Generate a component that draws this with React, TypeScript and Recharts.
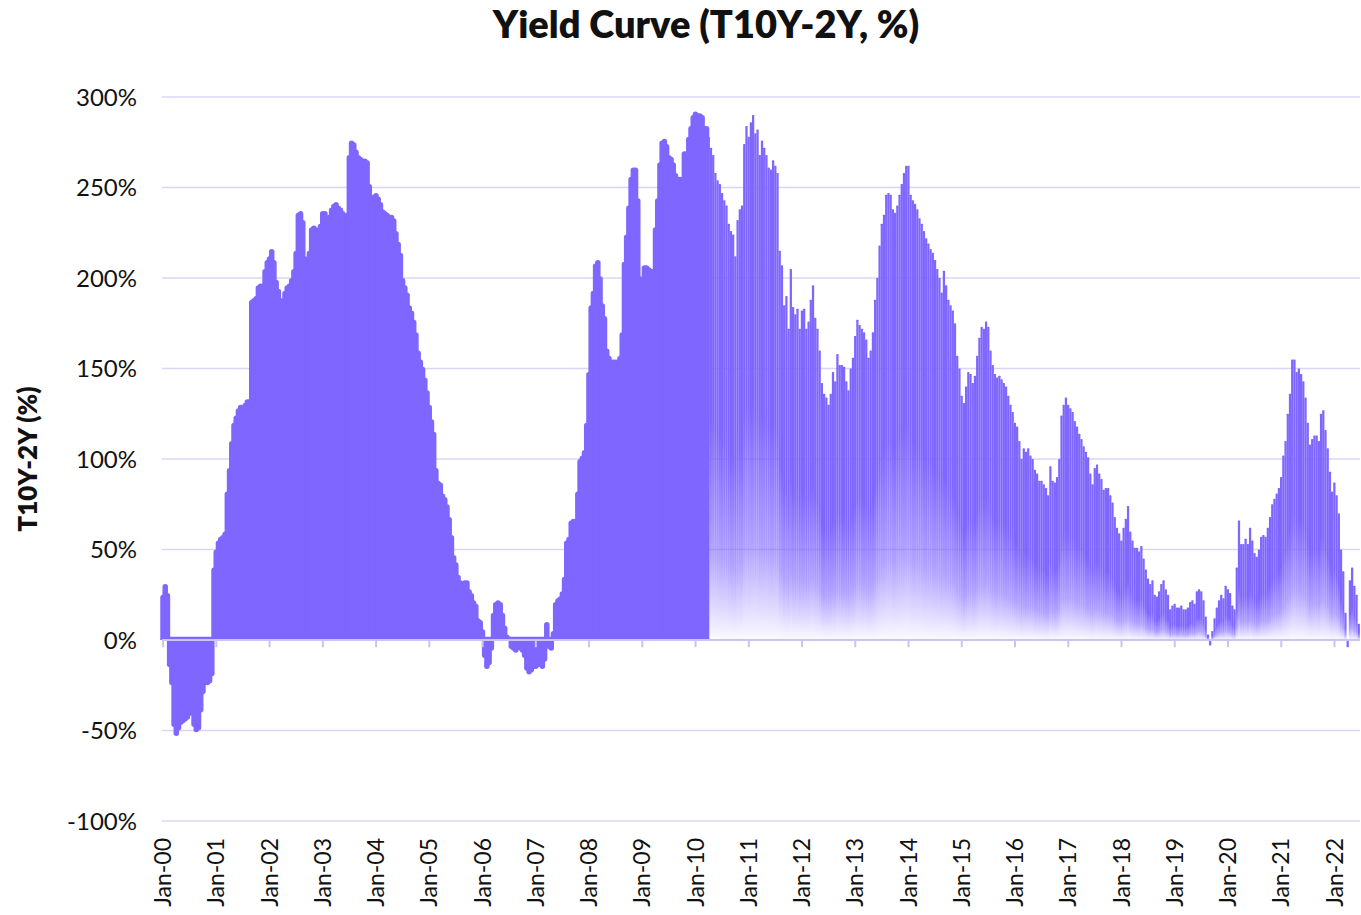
import React from "react";
import {
  Bar,
  BarChart,
  CartesianGrid,
  ReferenceArea,
  ReferenceLine,
  XAxis,
  YAxis,
} from "recharts";

const PURPLE = "#7F66FF";
const GRID = "#d9d7f5";
const AXIS = "#c8c6ee";
const INK = "#111";

// T10Y-2Y spread (%), two readings per month: first half, second half
const Y2000 = [25, 31, 26, -15, -25, -48, -53, -50, -47, -46, -45, -44, -42, -40, -48, -51, -50, -40, -30, -25, -25, -24, -20, 40];
const Y2001 = [50, 55, 57, 58, 60, 82, 95, 110, 120, 124, 128, 130, 129, 131, 133, 133, 188, 189, 190, 196, 197, 197, 205, 210];
const Y2002 = [212, 216, 210, 199, 194, 189, 186, 193, 196, 197, 200, 205, 215, 236, 237, 232, 212, 202, 215, 228, 229, 228, 224, 230];
const Y2003 = [237, 237, 232, 235, 239, 241, 242, 240, 239, 237, 225, 236, 268, 276, 275, 271, 268, 267, 266, 266, 265, 252, 246, 246];
const Y2004 = [247, 245, 242, 238, 237, 236, 235, 235, 233, 226, 220, 214, 200, 196, 192, 185, 182, 177, 170, 160, 155, 151, 145, 138];
const Y2005 = [130, 122, 115, 95, 88, 87, 81, 79, 75, 68, 58, 47, 43, 36, 33, 31, 33, 33, 28, 26, 22, 20, 12, 11];
const Y2006 = [6, -10, -16, -14, -6, 15, 21, 22, 21, 15, 8, 3, 2, -5, -6, -7, -4, -6, -7, -10, -17, -19, -18, -16];
const Y2007 = [-16, -15, -14, -16, -12, 10, -5, -6, 5, 21, 23, 24, 27, 35, 55, 57, 66, 67, 67, 82, 100, 102, 105, 120];
const Y2008 = [148, 185, 193, 208, 210, 201, 186, 179, 161, 157, 155, 155, 155, 155, 157, 170, 209, 224, 240, 256, 261, 261, 244, 201];
const Y2009 = [190, 207, 207, 206, 205, 205, 228, 244, 264, 276, 277, 274, 268, 267, 264, 258, 256, 256, 254, 270, 270, 278, 284, 290];
const Y2010 = [292, 291, 291, 290, 284, 284, 278, 272, 268, 258, 254, 252, 247, 243, 240, 230, 226, 224, 212, 232, 238, 240, 274, 284];
const Y2011 = [278, 286, 290, 280, 282, 268, 276, 272, 268, 261, 260, 265, 262, 258, 215, 207, 185, 190, 172, 205, 184, 180, 183, 172];
const Y2012 = [182, 183, 172, 176, 188, 196, 178, 172, 160, 142, 136, 134, 130, 136, 148, 143, 158, 152, 152, 151, 143, 138, 150, 156];
const Y2013 = [168, 177, 174, 172, 170, 166, 156, 160, 170, 188, 200, 218, 230, 235, 246, 247, 246, 238, 236, 240, 246, 252, 258, 262];
const Y2014 = [262, 246, 243, 241, 238, 233, 230, 226, 222, 219, 216, 214, 210, 205, 200, 192, 204, 196, 188, 185, 182, 175, 157, 150];
const Y2015 = [135, 131, 140, 148, 147, 142, 146, 157, 167, 173, 172, 176, 173, 160, 152, 147, 145, 146, 144, 142, 140, 135, 130, 126];
const Y2016 = [120, 118, 110, 100, 106, 104, 106, 102, 100, 94, 92, 88, 88, 86, 84, 80, 96, 88, 87, 90, 100, 124, 130, 134];
const Y2017 = [130, 128, 126, 121, 118, 114, 111, 107, 104, 101, 92, 86, 95, 97, 92, 89, 83, 84, 84, 80, 76, 68, 62, 59];
const Y2018 = [55, 62, 67, 74, 60, 55, 51, 51, 49, 52, 45, 39, 34, 31, 33, 25, 24, 27, 31, 33, 28, 25, 17, 19];
const Y2019 = [20, 18, 18, 19, 17, 17, 18, 21, 22, 20, 27, 28, 27, 22, 13, 3, -3, 5, 12, 18, 22, 25, 23, 30];
const Y2020 = [28, 26, 19, 17, 40, 66, 53, 53, 56, 53, 62, 55, 48, 46, 50, 57, 58, 57, 62, 68, 75, 78, 81, 84];
const Y2021 = [90, 102, 110, 125, 136, 155, 155, 148, 150, 147, 143, 134, 120, 108, 111, 113, 113, 110, 125, 127, 116, 106, 93, 82];
const Y2022 = [87, 80, 70, 50, 38, 15, -4, 33, 40, 30, 25, 9];

const YEARS = [
  2000, 2001, 2002, 2003, 2004, 2005, 2006, 2007, 2008, 2009, 2010, 2011,
  2012, 2013, 2014, 2015, 2016, 2017, 2018, 2019, 2020, 2021, 2022,
];
const SERIES = [
  Y2000, Y2001, Y2002, Y2003, Y2004, Y2005, Y2006, Y2007, Y2008, Y2009, Y2010, Y2011,
  Y2012, Y2013, Y2014, Y2015, Y2016, Y2017, Y2018, Y2019, Y2020, Y2021, Y2022,
];
const Y_TICKS = [-100, -50, 0, 50, 100, 150, 200, 250, 300];

// readings before this point come from the coarser (solid) part of the source
const DAILY_FROM = "2010-04a";

type Row = { d: string; v: number };

const rows: Row[] = [];
YEARS.forEach((yr, k) => {
  SERIES[k].forEach((v, j) => {
    const m = String(Math.floor(j / 2) + 1).padStart(2, "0");
    rows.push({ d: `${yr}-${m}${j % 2 ? "b" : "a"}`, v });
  });
});

const JAN_TICKS = YEARS.map((y) => `${y}-01a`);

function barPath(x: number, y: number, w: number, h: number, r: number, up: boolean) {
  const rr = Math.max(0, Math.min(r, w / 2, h));
  if (up) {
    return `M${x},${y + h} L${x},${y + rr} Q${x},${y} ${x + rr},${y} L${x + w - rr},${y} Q${x + w},${y} ${x + w},${y + rr} L${x + w},${y + h} Z`;
  }
  return `M${x},${y} L${x + w},${y} L${x + w},${y + h - rr} Q${x + w},${y + h} ${x + w - rr},${y + h} L${x + rr},${y + h} Q${x},${y + h} ${x},${y + h - rr} Z`;
}

function SpreadBar(props: any) {
  const { x, y, width, height, payload } = props;
  if (x == null || y == null || !height) return null;
  const top = Math.min(y, y + height);
  const h = Math.abs(height);
  const up = payload.v >= 0;
  const cx = x + width / 2;
  if (payload.d < DAILY_FROM) {
    const w = 5.5;
    return <path d={barPath(cx - w / 2, top, w, h, 2.75, up)} fill={PURPLE} />;
  }
  const w = width + 0.25;
  return (
    <path
      d={barPath(cx - w / 2, top, w, h, 0.6, up)}
      fill={up ? "url(#spreadFade)" : PURPLE}
    />
  );
}

function XTick(props: any) {
  const { x, y, payload } = props;
  return (
    <g transform={`translate(${x},${y})`}>
      <text
        transform="rotate(-90)"
        textAnchor="end"
        dy="0.35em"
        fontSize={23}
        fill={INK}
      >
        {`Jan-${String(payload.value).slice(2, 4)}`}
      </text>
    </g>
  );
}

export default function App() {
  return (
    <div
      style={{
        position: "absolute",
        left: 0,
        top: 0,
        width: 1361,
        height: 915,
        background: "#fff",
        fontFamily: "Lato, sans-serif",
      }}
    >
      <div
        style={{
          position: "absolute",
          left: 0,
          top: 1,
          width: 1412,
          textAlign: "center",
          fontSize: 38,
          fontWeight: 800,
          color: INK,
          lineHeight: 1.2,
        }}
      >
        Yield Curve (T10Y-2Y, %)
      </div>
      <BarChart
        width={1361}
        height={915}
        data={rows}
        margin={{ top: 97, right: 1, left: 23, bottom: 4 }}
        barCategoryGap={0}
        barGap={0}
      >
        <defs>
          <linearGradient id="spreadFade" x1="0" y1="0" x2="0" y2="1">
            <stop offset="0%" stopColor={PURPLE} stopOpacity={1} />
            <stop offset="55%" stopColor={PURPLE} stopOpacity={1} />
            <stop offset="82%" stopColor={PURPLE} stopOpacity={0.6} />
            <stop offset="100%" stopColor={PURPLE} stopOpacity={0.03} />
          </linearGradient>
        </defs>
        <CartesianGrid stroke={GRID} strokeWidth={1.5} vertical={false} />
        <XAxis
          dataKey="d"
          ticks={JAN_TICKS}
          interval={0}
          axisLine={false}
          tickLine={false}
          tickSize={0}
          tickMargin={17}
          height={90}
          tick={<XTick />}
        />
        <YAxis
          domain={[-100, 300]}
          ticks={Y_TICKS}
          allowDataOverflow
          axisLine={false}
          tickLine={false}
          tickSize={0}
          tickMargin={25}
          width={139}
          tick={{ fill: INK, fontSize: 24 }}
          tickFormatter={(v: number) => `${v}%`}
          label={{
            value: "T10Y-2Y (%)",
            angle: -90,
            position: "insideLeft",
            offset: 5,
            style: { textAnchor: "middle", fontWeight: 800, fontSize: 26, fill: INK },
          }}
        />
        <ReferenceArea
          x1="2000-01a"
          x2="2010-03b"
          y1={0}
          y2={1.8}
          fill={PURPLE}
          fillOpacity={1}
          stroke="none"
        />
        <Bar dataKey="v" shape={SpreadBar} isAnimationActive={false} />
        <ReferenceLine y={0} stroke={AXIS} strokeWidth={2} />
        {JAN_TICKS.map((t) => (
          <ReferenceLine
            key={t}
            segment={[
              { x: t, y: 0 },
              { x: t, y: -4 },
            ]}
            stroke={AXIS}
            strokeWidth={2}
          />
        ))}
      </BarChart>
    </div>
  );
}
